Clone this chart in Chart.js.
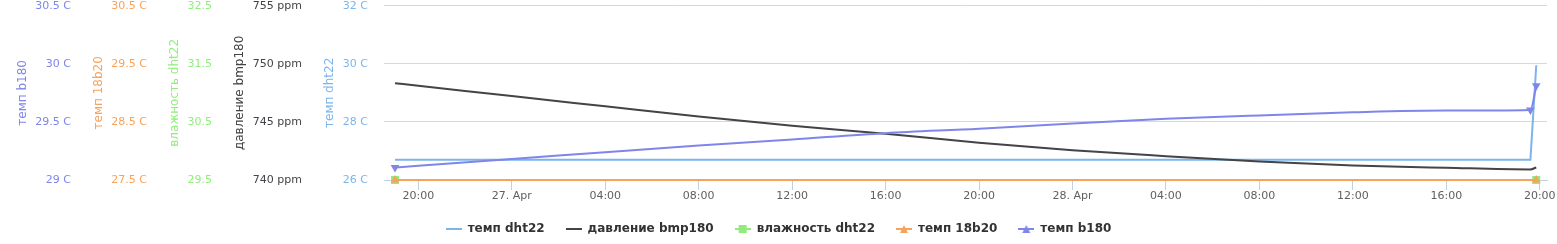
<!DOCTYPE html>
<html>
<head>
<meta charset="utf-8">
<script src="https://cdn.jsdelivr.net/npm/chart.js@4/dist/chart.umd.min.js"></script>
<style>
  html, body { margin: 0; padding: 0; background: #fff; }
</style>
</head>
<body>
<canvas id="chart" width="1557" height="244"></canvas>
<script>
// time in hours counted from 26. Apr 00:00
const hours = [19.0, 20, 24, 28, 32, 36, 40, 44, 48, 52, 56, 60, 64, 67.6, 67.85];
const endHours = [19.0, 67.85];

const tempDht22 = [26.7, 26.7, 26.7, 26.7, 26.7, 26.7, 26.7, 26.7, 26.7, 26.7, 26.7, 26.7, 26.7, 26.7, 29.95];
const pressureBmp180 = [748.33, 748.11, 747.22, 746.34, 745.46, 744.66, 743.98, 743.21, 742.56, 742.05, 741.59, 741.25, 741.05, 740.91, 741.08];
const humidityDht22 = [29.5, 29.5];
const temp18b20 = [27.5, 27.5];
const tempB180 = [29.108, 29.123, 29.181, 29.239, 29.297, 29.349, 29.403, 29.441, 29.486, 29.526, 29.556, 29.582, 29.597, 29.603, 29.81];

const xTicks = [20, 24, 28, 32, 36, 40, 44, 48, 52, 56, 60, 64, 68];
const xTickLabels = ['20:00', '27. Apr', '04:00', '08:00', '12:00', '16:00', '20:00', '28. Apr', '04:00', '08:00', '12:00', '16:00', '20:00'];

const b180Ticks = [29, 29.5, 30, 30.5];
const t18b20Ticks = [27.5, 28.5, 29.5, 30.5];
const humTicks = [29.5, 30.5, 31.5, 32.5];
const pressTicks = [740, 745, 750, 755];
const dhtTicks = [26, 28, 30, 32];

const BLUE = '#7cb5ec', BLACK = '#434348', GREEN = '#90ed7d', ORANGE = '#f7a35c', PURPLE = '#8085e9';

Chart.defaults.font.family = 'DejaVu Sans';

function pts(xs, ys) {
  return xs.map((x, i) => ({ x: x, y: ys[i] }));
}

// little legend symbols: line with the marker in the middle
function legendIcon(color, marker) {
  const c = document.createElement('canvas');
  c.width = 16; c.height = 12;
  const g = c.getContext('2d');
  g.strokeStyle = color; g.lineWidth = 2;
  g.beginPath(); g.moveTo(0, 6); g.lineTo(16, 6); g.stroke();
  g.fillStyle = color;
  if (marker === 'square') g.fillRect(4, 2, 8, 8);
  if (marker === 'up') { g.beginPath(); g.moveTo(8, 2); g.lineTo(12, 10); g.lineTo(4, 10); g.closePath(); g.fill(); }
  if (marker === 'down') { g.beginPath(); g.moveTo(4, 2); g.lineTo(12, 2); g.lineTo(8, 10); g.closePath(); g.fill(); }
  return c;
}
const legendIcons = [legendIcon(BLUE), legendIcon(BLACK), legendIcon(GREEN, 'square'), legendIcon(ORANGE, 'up'), legendIcon(PURPLE, 'down')];

function yAxis(ticks, color, title, unit, weight, width, pad, grid) {
  return {
    type: 'linear',
    position: 'left',
    weight: weight,
    min: ticks[0],
    max: ticks[ticks.length - 1],
    afterBuildTicks: s => { s.ticks = ticks.map(v => ({ value: v })); },
    afterFit: s => { s.width = width; s.paddingTop = 0; s.paddingBottom = 0; },
    ticks: {
      color: color,
      padding: pad,
      font: { size: 11 },
      callback: v => v + unit
    },
    title: { display: true, text: title, color: color, font: { size: 12 }, padding: { top: 16, bottom: 0 } },
    grid: grid ? {
      drawTicks: false,
      color: c => c.index === 0 ? 'rgba(0,0,0,0)' : '#d8d8d8'
    } : { display: false, drawTicks: false },
    border: { display: false }
  };
}

new Chart(document.getElementById('chart'), {
  type: 'line',
  data: {
    datasets: [
      { label: 'темп dht22', data: pts(hours, tempDht22), yAxisID: 'yDht', borderColor: BLUE, backgroundColor: BLUE,
        borderWidth: 2, pointRadius: 0, order: 4, clip: false },
      { label: 'давление bmp180', data: pts(hours, pressureBmp180), yAxisID: 'yPress', borderColor: BLACK, backgroundColor: BLACK,
        borderWidth: 2, pointRadius: 0, cubicInterpolationMode: 'monotone', order: 3, clip: false },
      { label: 'влажность dht22', data: pts(endHours, humidityDht22), yAxisID: 'yHum', borderColor: GREEN, backgroundColor: GREEN,
        borderWidth: 2, pointStyle: 'rect', pointRadius: 5.66, pointBorderWidth: 0, order: 2, clip: false },
      { label: 'темп 18b20', data: pts(endHours, temp18b20), yAxisID: 'y18b20', borderColor: ORANGE, backgroundColor: ORANGE,
        borderWidth: 2, pointStyle: 'triangle', pointRadius: 5, pointBorderWidth: 0, order: 1, clip: false },
      { label: 'темп b180', data: pts(hours, tempB180), yAxisID: 'yB180', borderColor: PURPLE, backgroundColor: PURPLE,
        borderWidth: 2, pointStyle: 'triangle', pointRotation: 180, pointBorderWidth: 0,
        pointRadius: c => (c.dataIndex === 0 || c.dataIndex >= hours.length - 2) ? 5 : 0,
        cubicInterpolationMode: 'monotone', order: 0, clip: false }
    ]
  },
  options: {
    responsive: false,
    animation: false,
    events: [],
    layout: { padding: { top: 2, right: 0, bottom: -1, left: 0 } },
    scales: {
      x: {
        type: 'linear',
        position: 'bottom',
        min: 18.53,
        max: 68.31,
        afterBuildTicks: s => { s.ticks = xTicks.map(v => ({ value: v })); },
        afterFit: s => { s.height = 22; s.paddingLeft = 0; s.paddingRight = 0; },
        ticks: {
          color: '#606060',
          font: { size: 11 },
          padding: 0,
          maxRotation: 0,
          autoSkip: false,
          callback: v => xTickLabels[xTicks.indexOf(v)]
        },
        grid: { drawOnChartArea: false, drawTicks: true, tickLength: 10, color: '#c0d0e0' },
        border: { color: '#c0d0e0' }
      },
      yB180: yAxis(b180Ticks, PURPLE, 'темп b180', ' C', 5, 76, 5, false),
      y18b20: yAxis(t18b20Ticks, ORANGE, 'темп 18b20', ' C', 4, 76, 5, false),
      yHum: yAxis(humTicks, GREEN, 'влажность dht22', '', 3, 65, 5, false),
      yPress: yAxis(pressTicks, BLACK, 'давление bmp180', ' ppm', 2, 90, 5, false),
      yDht: yAxis(dhtTicks, BLUE, 'темп dht22', ' C', 1, 77, 16, true),
      // empty strip on the right so the plot stops short of the edge
      yRight: {
        position: 'right',
        afterFit: s => { s.width = 10; s.paddingTop = 0; s.paddingBottom = 0; },
        ticks: { display: false },
        grid: { display: false },
        border: { display: false }
      }
    },
    plugins: {
      tooltip: { enabled: false },
      legend: {
        position: 'bottom',
        labels: {
          usePointStyle: true,
          pointStyleWidth: 16,
          boxHeight: 12,
          padding: 21,
          color: '#333333',
          font: { size: 12, weight: 'bold' },
          sort: (a, b) => a.datasetIndex - b.datasetIndex,
          generateLabels: chart => {
            const items = Chart.defaults.plugins.legend.labels.generateLabels(chart);
            items.forEach(it => { it.pointStyle = legendIcons[it.datasetIndex]; });
            return items;
          }
        }
      }
    }
  }
});
</script>
</body>
</html>
